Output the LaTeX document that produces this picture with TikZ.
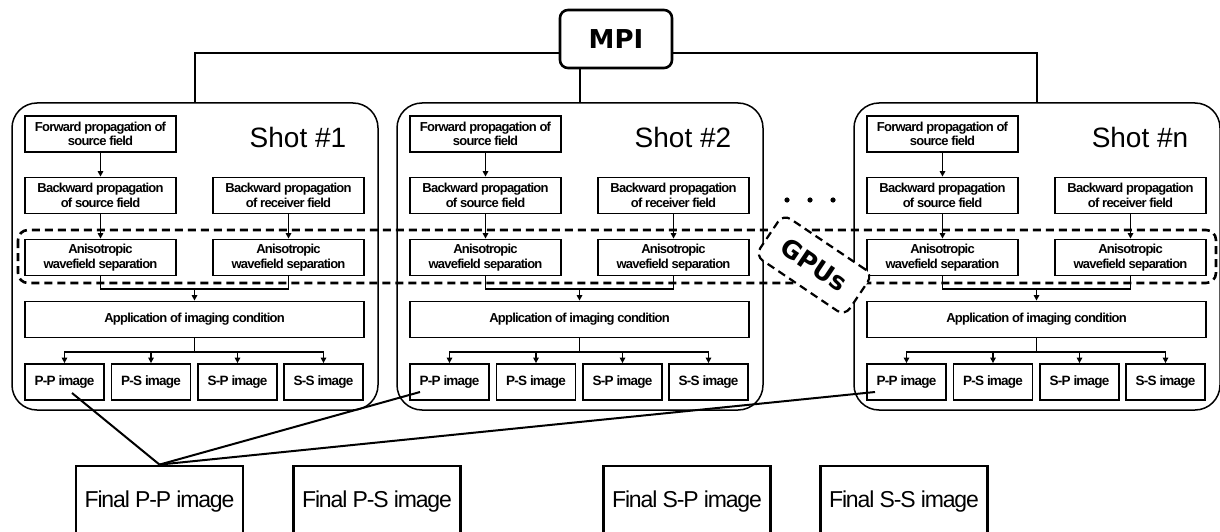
\documentclass[tikz,border=0pt]{standalone}
\usepackage{fontspec}
\setmainfont{Liberation Sans}
\newfontfamily\headfont{DejaVu Sans}
\newfontfamily\tightfont[LetterSpace=-6]{Liberation Sans}
\newfontfamily\finalfont[LetterSpace=-5]{Liberation Sans}
\usetikzlibrary{arrows.meta,calc}

\tikzset{
  arr/.style={line width=1.4pt, -{Triangle[length=5.5pt,width=5.5pt]}},
  link/.style={line width=1.4pt},
  stepbox/.style={draw, line width=1.8pt, minimum width=151pt, minimum height=36pt,
    inner sep=0pt, align=center, font=\tightfont\bfseries\fontsize{13}{14.5}\selectfont},
  widebox/.style={stepbox, minimum width=339pt},
  imgbox/.style={stepbox, minimum width=79pt, font=\tightfont\bfseries\fontsize{13.5}{15}\selectfont},
  shotbox/.style={draw, line width=1.5pt, rounded corners=25pt,
    minimum width=366pt, minimum height=307pt, inner sep=0pt},
  shotlab/.style={font=\fontsize{28}{30}\selectfont, inner sep=0pt},
  mpibox/.style={draw, fill=white, line width=2.6pt, rounded corners=8pt,
    minimum width=112pt, minimum height=58pt, inner sep=0pt,
    font=\headfont\bfseries\fontsize{26}{28}\selectfont},
  finalbox/.style={draw, line width=2.8pt, minimum width=167pt, minimum height=72pt,
    inner sep=0pt, font=\finalfont\fontsize{23}{26}\selectfont},
  gpuregion/.style={line width=2.6pt, dash pattern=on 8pt off 5pt, rounded corners=10pt},
  gpubox/.style={draw, fill=white, line width=2.2pt, dash pattern=on 8pt off 5pt,
    rounded corners=9pt, minimum width=108pt, minimum height=50pt, inner sep=0pt,
    font=\headfont\bfseries\fontsize{25}{27}\selectfont},
  finallink/.style={line width=2pt},
}

\begin{document}
\begin{tikzpicture}[x=1pt,y=-1pt]
\useasboundingbox (0,0) rectangle (1220,532);
\clip (0,0) rectangle (1220,532);

% one block per shot, shifted sideways
\foreach \i/\dx in {1/0,2/385,n/842}{
  \begin{scope}[xshift=\dx pt]
    \node[shotbox] (s\i) at (195,256.5) {};
    \node[shotlab] (lab\i) at (298,137) {Shot \#\i};
    \node[stepbox] (fw\i) at (100.5,134) {Forward propagation of\\source field};
    \node[stepbox] (bs\i) at (100.5,195.5) {Backward propagation\\of source field};
    \node[stepbox] (br\i) at (288.5,195.5) {Backward propagation\\of receiver field};
    \node[stepbox] (al\i) at (100.5,257.5) {Anisotropic\\wavefield separation};
    \node[stepbox] (ar\i) at (288.5,257.5) {Anisotropic\\wavefield separation};
    \node[widebox] (app\i) at (194.5,319.5) {Application of imaging condition};
    \node[imgbox] (pp\i) at (64.5,382) {P-P image};
    \node[imgbox] (ps\i) at (151,382) {P-S image};
    \node[imgbox] (sp\i) at (237.5,382) {S-P image};
    \node[imgbox] (ss\i) at (323.5,382) {S-S image};
    \coordinate (j\i) at (194.5,289);
    \coordinate (b\i) at (194.5,352);
  \end{scope}
  \draw[arr] (fw\i) -- (bs\i);
  \draw[arr] (bs\i) -- (al\i);
  \draw[arr] (br\i) -- (ar\i);
  \draw[link] (al\i.south) |- (j\i) -| (ar\i.south);
  \draw[arr] (j\i) -- (app\i);
  \draw[link] (app\i) -- (b\i);
  \foreach \k in {pp,ps,sp,ss}{\draw[arr] (b\i) -| (\k\i);}
}

% MPI root and its links to the shots
\node[mpibox] (mpi) at (616,39) {MPI};
\coordinate (hl) at (0,53);
\draw[link] (mpi.west |- hl) -| (s1.north);
\draw[link] (mpi.east |- hl) -| (sn.north);
\draw[link] (s2.north |- mpi.south) -- (s2.north);

% GPU band across all shots
\draw[gpuregion] (18,230) rectangle (1216,283);
\foreach \xd in {787,810,833}{\fill (\xd,200) circle (2.6pt);}
\node[gpubox, rotate=-34] (gpu) at (814,265) {GPUs};

% final stacked images
\node[finalbox] (fpp) at (159.5,502) {Final P-P image};
\node[finalbox] (fps) at (377,502) {Final P-S image};
\node[finalbox] (fsp) at (687,502) {Final S-P image};
\node[finalbox] (fss) at (904,502) {Final S-S image};

\coordinate (e1) at (72,393);
\coordinate (e2) at (420,392);
\coordinate (en) at (875,392);
\draw[finallink] (fpp.north) -- (e1);
\draw[finallink] (fpp.north) -- (e2);
\draw[finallink] (fpp.north) -- (en);
\end{tikzpicture}
\end{document}
